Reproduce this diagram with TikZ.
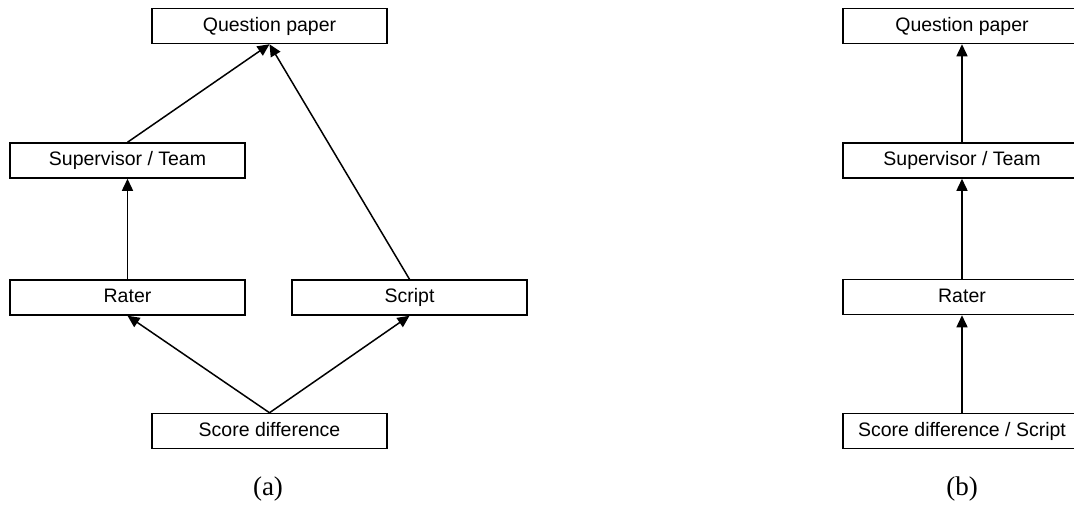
\documentclass[tikz,border=0pt]{standalone}
\usepackage{fontspec}
\setmainfont{Liberation Sans}
\newfontfamily\capfont{Liberation Serif}
\usetikzlibrary{arrows.meta}
\begin{document}
\begin{tikzpicture}[x=1pt,y=-1pt,
  box/.style={draw=black,line width=1.5pt,rectangle,minimum width=235pt,minimum height=35pt,inner sep=0pt,
    text height=14pt,text depth=4pt,font=\fontsize{19.5}{23}\selectfont},
  boxb/.style={box,minimum width=238pt},
  arr/.style={line width=1.5pt,-{Triangle[length=12pt,width=11pt]}},
  caption/.style={font=\capfont\fontsize{27}{30}\selectfont}]
\useasboundingbox (0,0) rectangle (1074,509);
\clip (0,0) rectangle (1074,509);
% (a)
\node[box] (qa) at (269.5,26) {Question paper};
\node[box] (sa) at (127.5,160.5) {Supervisor / Team};
\node[box] (ra) at (127.5,297.5) {Rater};
\node[box] (sc) at (409.5,297.5) {Script};
\node[box] (da) at (269.5,431) {Score difference};
\draw[arr] (sa.north) -- (qa.south);
\draw[arr] (sc.north) -- (qa.south);
\draw[arr] (ra.north) -- (sa.south);
\draw[arr] (da.north) -- (ra.south);
\draw[arr] (da.north) -- (sc.south);
\node[caption] (la) at (268,489) {(a)};
% (b)
\node[boxb] (qb) at (962,26) {Question paper};
\node[boxb] (sb) at (962,160.5) {Supervisor / Team};
\node[boxb] (rb) at (962,297) {Rater};
\node[boxb] (db) at (962,431) {Score difference / Script};
\draw[arr] (sb.north) -- (qb.south);
\draw[arr] (rb.north) -- (sb.south);
\draw[arr] (db.north) -- (rb.south);
\node[caption] (lb) at (962,489) {(b)};
\end{tikzpicture}
\end{document}
